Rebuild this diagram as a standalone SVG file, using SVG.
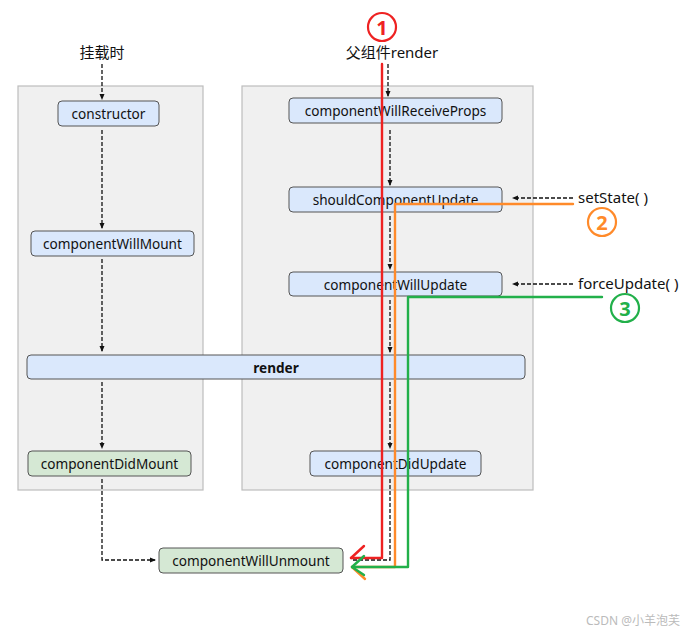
<svg xmlns="http://www.w3.org/2000/svg" width="687" height="634" viewBox="0 0 687 634">
<style>
.cont{fill:#f0f0f0;stroke:#bdbdbd;stroke-width:1.2}
.nb{fill:#dae8fc;stroke:#555;stroke-width:1}
.ng{fill:#d5e8d4;stroke:#555;stroke-width:1}
.t{font-family:"Noto Sans","Noto Sans CJK SC",sans-serif;font-size:13.6px;fill:#111;text-anchor:middle;dominant-baseline:central}
.lbl{font-family:"Noto Sans","Noto Sans CJK SC",sans-serif;font-size:15px;fill:#111;dominant-baseline:central}
.d{fill:none;stroke:#111;stroke-width:1.3;stroke-dasharray:4 2}
.num{font-family:"Noto Sans","Liberation Sans",sans-serif;font-weight:bold;font-size:20px;text-anchor:middle;dominant-baseline:central}
</style>
<defs>
<marker id="ah" viewBox="0 0 6 6" refX="5" refY="3" markerWidth="6" markerHeight="6" markerUnits="userSpaceOnUse" orient="auto">
<path d="M0,0.5 L6,3 L0,5.5 Z" fill="#111"/>
</marker>
</defs>
<rect width="687" height="634" fill="#fff"/>
<rect class="cont" x="18" y="86" width="185" height="404"/>
<rect class="cont" x="242" y="86" width="291" height="404"/>

<text class="lbl" x="102" y="52" text-anchor="middle">挂载时</text>
<text class="lbl" x="392" y="52" text-anchor="middle">父组件render</text>

<g id="connectors">
<line class="d" x1="102" y1="64" x2="102" y2="99" marker-end="url(#ah)"/>
<line class="d" x1="102" y1="130" x2="102" y2="228" marker-end="url(#ah)"/>
<line class="d" x1="102" y1="259" x2="102" y2="351" marker-end="url(#ah)"/>
<line class="d" x1="102" y1="382" x2="102" y2="448" marker-end="url(#ah)"/>
<path class="d" d="M102,479 V560 H155" marker-end="url(#ah)"/>
<line class="d" x1="388" y1="64" x2="388" y2="96" marker-end="url(#ah)"/>
<line class="d" x1="390" y1="130" x2="390" y2="185" marker-end="url(#ah)"/>
<line class="d" x1="390" y1="216" x2="390" y2="269" marker-end="url(#ah)"/>
<line class="d" x1="390" y1="300" x2="390" y2="352" marker-end="url(#ah)"/>
<line class="d" x1="390" y1="382" x2="390" y2="448" marker-end="url(#ah)"/>
<path class="d" d="M390,479 V560 H352"/>
<line class="d" x1="573" y1="198" x2="513" y2="198" marker-end="url(#ah)"/>
<line class="d" x1="573" y1="284" x2="513" y2="284" marker-end="url(#ah)"/>
</g>

<g id="constructor"><rect class="nb" x="58" y="101" width="101" height="25" rx="4"/><text class="t" x="108.5" y="113.5">constructor</text></g>
<g id="componentWillMount"><rect class="nb" x="31" y="231" width="163" height="25" rx="4"/><text class="t" x="112.5" y="243.5">componentWillMount</text></g>
<g id="render"><rect class="nb" x="27" y="355" width="498" height="24" rx="4"/><text class="t" x="276" y="367" font-weight="bold">render</text></g>
<g id="componentDidMount"><rect class="ng" x="28" y="451" width="163" height="25" rx="4"/><text class="t" x="109.5" y="463.5">componentDidMount</text></g>
<g id="componentWillReceiveProps"><rect class="nb" x="289" y="98" width="213" height="25" rx="4"/><text class="t" x="395.5" y="110.5">componentWillReceiveProps</text></g>
<g id="shouldComponentUpdate"><rect class="nb" x="289" y="187" width="213" height="25" rx="4"/><text class="t" x="395.5" y="199.5">shouldComponentUpdate</text></g>
<g id="componentWillUpdate"><rect class="nb" x="289" y="272" width="213" height="24" rx="4"/><text class="t" x="395.5" y="284">componentWillUpdate</text></g>
<g id="componentDidUpdate"><rect class="nb" x="310" y="451" width="171" height="25" rx="4"/><text class="t" x="395.5" y="463.5">componentDidUpdate</text></g>
<g id="componentWillUnmount"><rect class="ng" x="159" y="548" width="184" height="25" rx="4"/><text class="t" x="251" y="560.5">componentWillUnmount</text></g>

<text class="lbl" x="578" y="197">setState( )</text>
<text class="lbl" x="578" y="283">forceUpdate( )</text>

<g id="paths" fill="none" stroke-width="2.4" stroke-linecap="round" stroke-linejoin="round">
<path d="M382,64 V558 H351" stroke="#ee2222"/>
<path d="M364,546 L351,558" stroke="#ee2222"/>
<path d="M573,204 H395 V567 H352" stroke="#ff8a2a"/>
<path d="M352,567 L365,579" stroke="#ff8a2a"/>
<path d="M602,297 H408 V567 H352" stroke="#22b04a"/>
<path d="M364,556 L352,567 L364,575" stroke="#22b04a"/>
</g>

<g id="n1"><circle cx="382" cy="27" r="14" fill="#fff" stroke="#ee2222" stroke-width="2.2"/><text class="num" x="382" y="27" fill="#ee2222">1</text></g>
<g id="n2"><circle cx="602" cy="222" r="14" fill="#fff" stroke="#ff8a2a" stroke-width="2.2"/><text class="num" x="602" y="222" fill="#ff8a2a">2</text></g>
<g id="n3"><circle cx="625" cy="308" r="14" fill="#fff" stroke="#22b04a" stroke-width="2.2"/><text class="num" x="625" y="308" fill="#22b04a">3</text></g>

<text x="680" y="620" text-anchor="end" font-family="'Noto Sans','Noto Sans CJK SC',sans-serif" font-size="12" fill="#bbbbbb" dominant-baseline="central">CSDN @小羊泡芙</text>
</svg>
